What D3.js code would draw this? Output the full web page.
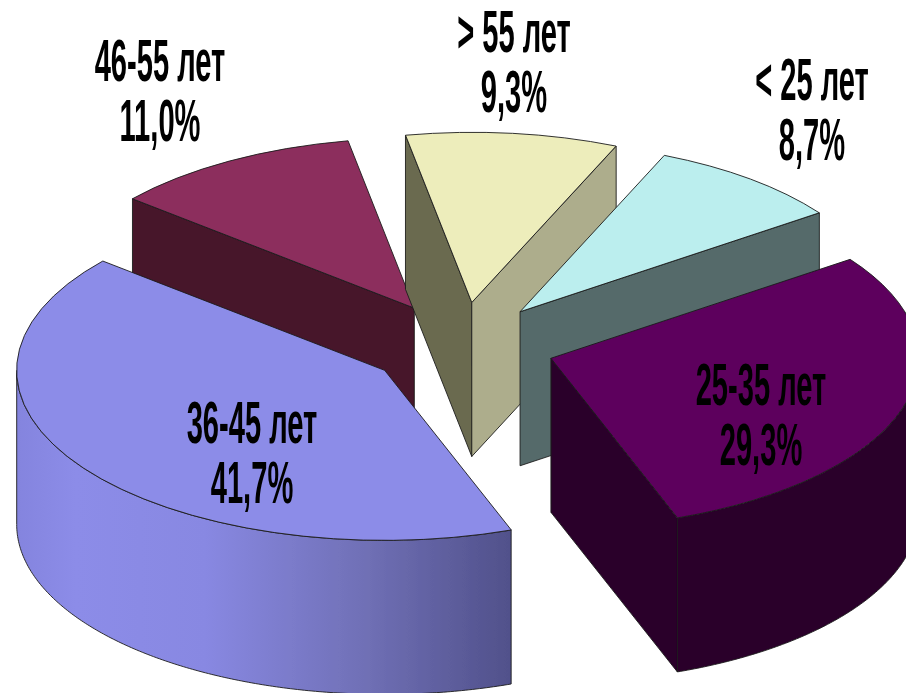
<!DOCTYPE html>
<html>
<head>
<meta charset="utf-8">
<script src="https://cdn.jsdelivr.net/npm/d3@7"></script>
<style>
  html, body { margin: 0; padding: 0; background: #fff; overflow: hidden; }
  svg { display: block; }
</style>
</head>
<body>
<div id="container"></div>
<script>
/* DATA */
const groups = ["< 25 лет", "25-35 лет", "36-45 лет", "46-55 лет", "> 55 лет"];
const shares = [8.7, 29.3, 41.7, 11.0, 9.3];
const shareLabels = ["8,7%", "29,3%", "41,7%", "11,0%", "9,3%"];

/* COLOURS */
const topColors = ["#bbeeee", "#5d005d", "#8c8ce8", "#8c2f5d", "#ededbb"];
const wallColors = ["#546a6a", "#2b002b", "url(#wallGradient)", "#46142a", "#adad8c"];
const startFaceColors = ["#546a6a", "#2b002b", "#46468c", "#46142a", "#6b6b50"];
const endFaceColors = ["#546a6a", "#2b002b", "#46468c", "#46142a", "#adad8c"];

/* LAYOUT */
const width = 906, height = 693;
const center = { x: 461.4, y: 345.5 };
const rx = 368, ry = 170, depth = 154;
const explode = 0.2546;
const firstAngle = 23.1 * Math.PI / 180;
// painted from the back of the pie to the front
const drawOrder = [3, 4, 0, 2, 1];
// label centre x, first line baseline
const labelPos = [[812, 100], [761, 405], [252, 443], [160, 81], [514, 52]];
const lineGap = 60;

const svg = d3.select("#container")
  .append("svg")
  .attr("width", width)
  .attr("height", height);

const defs = svg.append("defs");

defs.append("filter")
  .attr("id", "soft")
  .append("feGaussianBlur")
  .attr("stdDeviation", 0.45);

const gradient = defs.append("linearGradient")
  .attr("id", "wallGradient")
  .attr("gradientUnits", "userSpaceOnUse")
  .attr("x1", 16).attr("x2", 513)
  .attr("y1", 0).attr("y2", 0);

[[0, "#8484de"], [0.12, "#8c8ce8"], [0.38, "#8888e2"], [0.7, "#7070b6"], [1, "#50508a"]]
  .forEach(d => gradient.append("stop")
    .attr("offset", d[0])
    .attr("stop-color", d[1]));

/* SLICES */
const pie = d3.pie()
  .sort(null)
  .startAngle(firstAngle)
  .endAngle(firstAngle + 2 * Math.PI);

const slices = pie(shares);

const arc = d3.arc().innerRadius(0).outerRadius(1);

// unit circle to screen, relative to the slice's own apex
const px = a => rx * Math.sin(a);
const py = a => -ry * Math.cos(a);

const apex = d => {
  const mid = (d.startAngle + d.endAngle) / 2;
  return [center.x + explode * px(mid), center.y + explode * py(mid)];
};

const wallLine = d3.line();

// outer wall exists only on the part of the rim that faces the viewer
function wallPath(d) {
  const from = Math.max(d.startAngle, Math.PI / 2);
  const to = Math.min(d.endAngle, 3 * Math.PI / 2);
  if (from >= to) return null;
  const steps = d3.range(from, to, 0.01).concat(to);
  const [ax, ay] = apex(d);
  const upper = steps.map(a => [ax + px(a), ay + py(a)]);
  const lower = steps.slice().reverse().map(a => [ax + px(a), ay + py(a) + depth]);
  return wallLine(upper.concat(lower)) + "Z";
}

function facePath(d, angle) {
  const [ax, ay] = apex(d);
  const x = ax + px(angle), y = ay + py(angle);
  return wallLine([[ax, ay], [x, y], [x, y + depth], [ax, ay + depth]]) + "Z";
}

const chart = svg.append("g").attr("filter", "url(#soft)");

drawOrder.forEach(i => {
  const d = slices[i];
  const g = chart.append("g")
    .attr("stroke", "#1c1c1c")
    .attr("stroke-width", 0.9)
    .attr("stroke-linejoin", "round");

  // a cut face is seen only when it turns towards the viewer
  if (Math.sin(d.startAngle) < 0) {
    g.append("path").attr("d", facePath(d, d.startAngle)).attr("fill", startFaceColors[i]);
  }
  if (Math.sin(d.endAngle) > 0) {
    g.append("path").attr("d", facePath(d, d.endAngle)).attr("fill", endFaceColors[i]);
  }

  const wall = wallPath(d);
  if (wall) g.append("path").attr("d", wall).attr("fill", wallColors[i]);

  const [ax, ay] = apex(d);
  g.append("path")
    .attr("d", arc(d))
    .attr("transform", `translate(${ax},${ay}) scale(${rx},${ry})`)
    .attr("vector-effect", "non-scaling-stroke")
    .attr("fill", topColors[i]);
});

/* LABELS */
const labels = svg.append("g")
  .attr("filter", "url(#soft)")
  .attr("font-family", "'Liberation Sans', Arial, sans-serif")
  .attr("font-weight", "bold")
  .attr("font-size", 56)
  .attr("text-anchor", "middle")
  .attr("fill", "#000");

groups.forEach((name, i) => {
  [name, shareLabels[i]].forEach((line, k) => {
    labels.append("text")
      .attr("transform", `translate(${labelPos[i][0]},${labelPos[i][1] + k * lineGap}) scale(0.52,1.07)`)
      .text(line);
  });
});
</script>
</body>
</html>
